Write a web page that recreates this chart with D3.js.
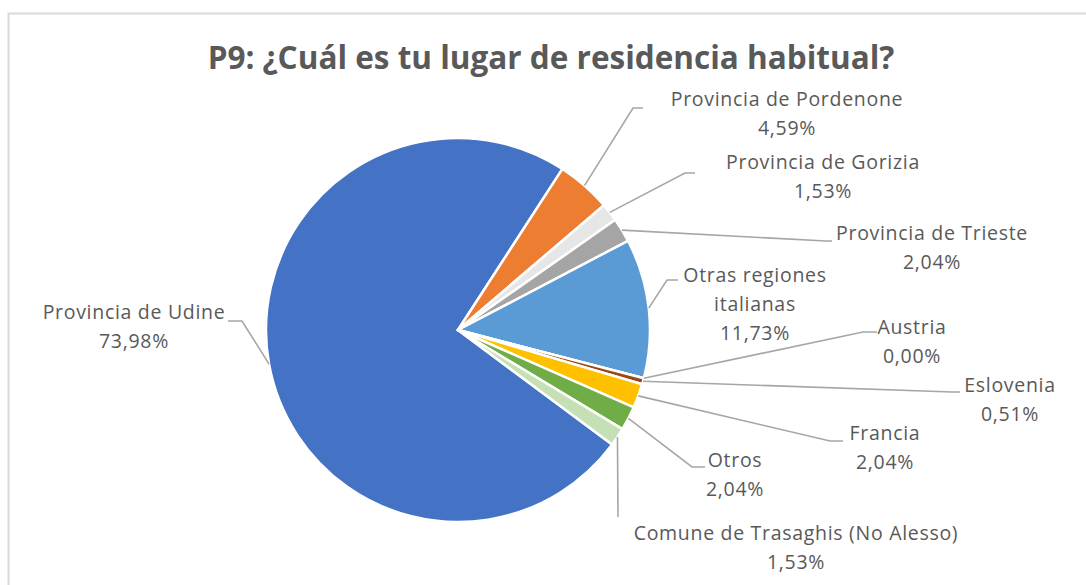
<!DOCTYPE html>
<html>
<head>
<meta charset="utf-8">
<script src="https://cdn.jsdelivr.net/npm/d3@7/dist/d3.min.js"></script>
<style>
  html, body { margin: 0; padding: 0; background: #fff; }
  svg { display: block; }
  text { font-family: "Open Sans", "Liberation Sans", sans-serif; fill: #595959; }
</style>
</head>
<body>
<svg id="chart" width="1086" height="585"></svg>
<script>
// ---- data ----
const categories = [
  "Provincia de Udine",
  "Provincia de Pordenone",
  "Provincia de Gorizia",
  "Provincia de Trieste",
  "Otras regiones italianas",
  "Austria",
  "Eslovenia",
  "Francia",
  "Otros",
  "Comune de Trasaghis (No Alesso)"
];
const values = [73.98, 4.59, 1.53, 2.04, 11.73, 0.00, 0.51, 2.04, 2.04, 1.53];
const valueLabels = ["73,98%", "4,59%", "1,53%", "2,04%", "11,73%", "0,00%", "0,51%", "2,04%", "2,04%", "1,53%"];
const titleText = "P9: ¿Cuál es tu lugar de residencia habitual?";

// ---- styles / layout ----
const colors = ["#4472C4", "#ED7D31", "#E7E6E6", "#A5A5A5", "#5B9BD5", "#264478", "#9E480E", "#FFC000", "#70AD47", "#C5E0B4"];
const labelLines = [
  ["Provincia de Udine", valueLabels[0]],
  ["Provincia de Pordenone", valueLabels[1]],
  ["Provincia de Gorizia", valueLabels[2]],
  ["Provincia de Trieste", valueLabels[3]],
  ["Otras regiones", "italianas", valueLabels[4]],
  ["Austria", valueLabels[5]],
  ["Eslovenia", valueLabels[6]],
  ["Francia", valueLabels[7]],
  ["Otros", valueLabels[8]],
  ["Comune de Trasaghis (No Alesso)", valueLabels[9]]
];
const labelLayout = [
  {x: 134, y: 312, leader: [[242, 321], [228, 321]]},
  {x: 787, y: 99,  leader: [[633, 108], [643, 108]]},
  {x: 823, y: 162, leader: [[685, 173], [695, 173]]},
  {x: 932, y: 233, leader: [[826, 241], [832, 241]]},
  {x: 755, y: 275, leader: [[667, 280], [678, 280]]},
  {x: 912, y: 327, leader: [[863, 332], [877, 332]]},
  {x: 1010, y: 385, leader: [[952, 392], [960, 392]]},
  {x: 885, y: 433, leader: [[830, 441], [843, 441]]},
  {x: 735, y: 460, leader: [[692, 467], [705, 467]]},
  {x: 796, y: 533, leader: [[618, 517]]}
];

const svg = d3.select("#chart");

// chart border
svg.append("rect")
  .attr("x", 8.5).attr("y", 13.5)
  .attr("width", 1100).attr("height", 600)
  .attr("fill", "#fff")
  .attr("stroke", "#D9D9D9").attr("stroke-width", 2);

// title
svg.append("text")
  .attr("x", 551).attr("y", 69)
  .attr("text-anchor", "middle")
  .attr("font-size", 31.5).attr("font-weight", "bold")
  .text(titleText);

// pie
const cx = 458, cy = 330, r = 192;
const startDeg = 126.6;
const toRad = Math.PI / 180;
const pie = d3.pie().sort(null).value(d => d)
  .startAngle(startDeg * toRad).endAngle((startDeg + 360) * toRad);
const arcs = pie(values);
const arc = d3.arc().innerRadius(0).outerRadius(r);

const g = svg.append("g").attr("transform", `translate(${cx},${cy})`);
g.selectAll("path.slice")
  .data(arcs)
  .join("path")
  .attr("class", "slice")
  .attr("d", arc)
  .attr("fill", (d, i) => colors[i])
  .attr("stroke", "#fff")
  .attr("stroke-width", 2.5)
  .attr("stroke-linejoin", "round");

// leader lines
const line = d3.line();
arcs.forEach((a, i) => {
  const mid = (a.startAngle + a.endAngle) / 2;
  const p0 = [cx + r * Math.sin(mid), cy - r * Math.cos(mid)];
  const pts = [p0].concat(labelLayout[i].leader);
  svg.append("path")
    .attr("d", line(pts))
    .attr("fill", "none")
    .attr("stroke", "#A6A6A6")
    .attr("stroke-width", 1.6);
});

// labels
labelLines.forEach((lines, i) => {
  const L = labelLayout[i];
  const t = svg.append("text")
    .attr("text-anchor", "middle")
    .attr("font-size", 19.5)
    .attr("letter-spacing", 0.7);
  lines.forEach((s, k) => {
    t.append("tspan")
      .attr("x", L.x)
      .attr("y", L.y + k * 29)
      .attr("dy", "0.35em")
      .text(s);
  });
});
</script>
</body>
</html>
